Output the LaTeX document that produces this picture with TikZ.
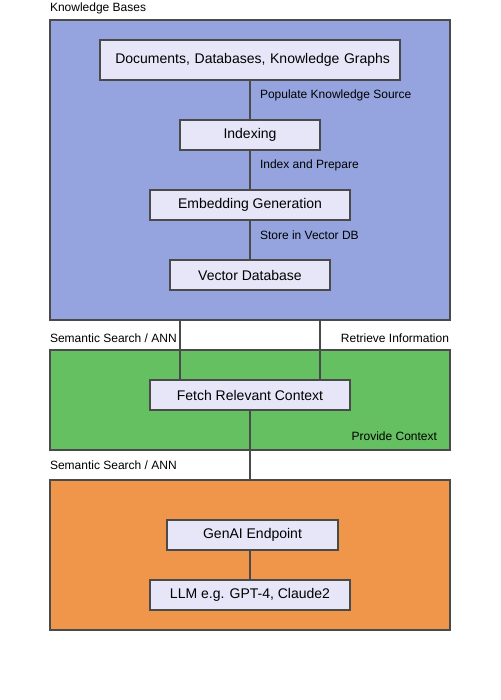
\documentclass[tikz,border=0pt]{standalone}
\usepackage{fontspec}
\setmainfont{Liberation Sans}
\usetikzlibrary{positioning}

\definecolor{kbblue}{HTML}{95A4DE}
\definecolor{ctxgreen}{HTML}{64C060}
\definecolor{genorange}{HTML}{F0964B}
\definecolor{boxfill}{HTML}{E6E6F8}
\definecolor{edgegray}{HTML}{4A4A4A}

\begin{document}
\begin{tikzpicture}[
    x=1pt, y=-1pt,
    every node/.style={inner sep=0pt, outer sep=0pt},
    cluster/.style={draw=edgegray, line width=1.1pt, anchor=north west},
    stepbox/.style={draw=edgegray, fill=boxfill, line width=1.1pt, minimum height=30pt, font=\fontsize{14}{16}\selectfont},
    lbl/.style={font=\fontsize{12}{14}\selectfont},
    link/.style={draw=edgegray, line width=1.2pt}
]
\useasboundingbox (0,0) rectangle (500,700);

% clusters
\node[cluster, fill=kbblue, minimum width=400pt, minimum height=300pt] (kb) at (50,20) {};
\node[cluster, fill=ctxgreen, minimum width=400pt, minimum height=100pt] (ctx) at (50,350) {};
\node[cluster, fill=genorange, minimum width=400pt, minimum height=150pt] (gen) at (50,480) {};
\node[lbl, anchor=west] (kbtitle) at (50,8) {Knowledge Bases};

% knowledge base steps
\node[stepbox, minimum width=300pt, minimum height=40pt, text width=280pt, align=right] (docs) at (250,60) {Documents, Databases, Knowledge Graphs};
\node[stepbox, minimum width=140pt] (idx) at (250,135) {Indexing};
\node[stepbox, minimum width=200pt] (emb) at (250,205) {Embedding Generation};
\node[stepbox, minimum width=160pt] (vdb) at (250,275) {Vector Database};

% context and generation
\node[stepbox, minimum width=200pt] (fetch) at (250,395) {Fetch Relevant Context};
\node[stepbox, minimum width=171pt] (api) at (252.5,535) {GenAI Endpoint};
\node[stepbox, minimum width=200pt] (llm) at (250,595) {LLM e.g. GPT-4, Claude2};

\draw[link] (docs) -- (idx);
\draw[link] (idx) -- (emb);
\draw[link] (emb) -- (vdb);
\node[lbl, anchor=west] (l1) at (260,95) {Populate Knowledge Source};
\node[lbl, anchor=west] (l2) at (260,165) {Index and Prepare};
\node[lbl, anchor=west] (l3) at (260,235) {Store in Vector DB};

\coordinate (s1) at (180,320);
\coordinate (s2) at (320,320);
\draw[link] (s1) -- (s1 |- fetch.north);
\draw[link] (s2) -- (s2 |- fetch.north);
\node[lbl, anchor=west] (l4) at (50,338) {Semantic Search / ANN};
\node[lbl, anchor=east] (l5) at (449,338) {Retrieve Information};

\draw[link] (fetch.south) -- (gen.north -| fetch.south);
\node[lbl, anchor=east] (l6) at (437,436) {Provide Context};
\node[lbl, anchor=west] (l7) at (50,465) {Semantic Search / ANN};

\coordinate (s3) at (250,550);
\draw[link] (s3) -- (s3 |- llm.north);
\end{tikzpicture}
\end{document}
